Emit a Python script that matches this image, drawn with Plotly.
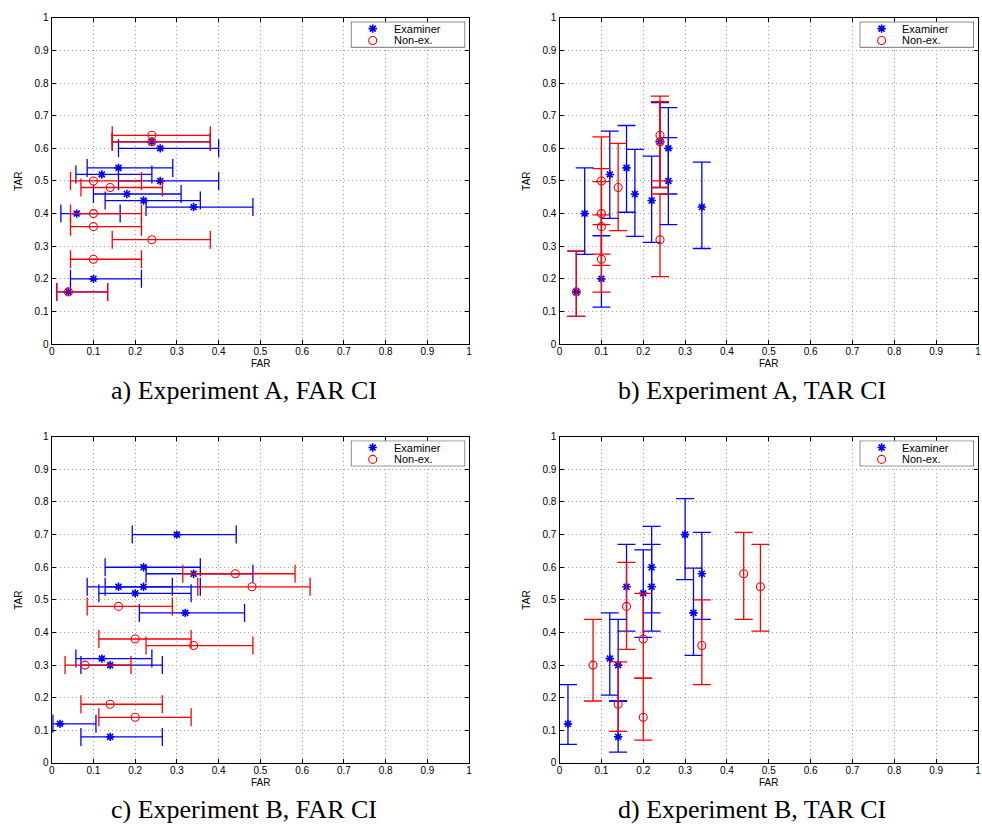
import plotly.graph_objects as go

# ---------------- data ----------------
# Experiment A, examiners
far_a_ex = [0.24, 0.26, 0.16, 0.12, 0.26, 0.18, 0.22, 0.34, 0.06, 0.10, 0.04]
tar_a_ex = [0.62, 0.60, 0.54, 0.52, 0.50, 0.46, 0.44, 0.42, 0.40, 0.20, 0.16]
far_lo_a_ex = [0.145, 0.16, 0.085, 0.058, 0.16, 0.10, 0.128, 0.226, 0.022, 0.045, 0.012]
far_hi_a_ex = [0.38, 0.40, 0.29, 0.24, 0.40, 0.31, 0.356, 0.482, 0.164, 0.215, 0.134]
tar_lo_a_ex = [0.48, 0.46, 0.404, 0.385, 0.366, 0.33, 0.312, 0.293, 0.275, 0.113, 0.085]
tar_hi_a_ex = [0.74, 0.725, 0.67, 0.653, 0.633, 0.597, 0.576, 0.558, 0.54, 0.332, 0.285]

# Experiment A, non-examiners
far_a_nx = [0.24, 0.24, 0.10, 0.14, 0.10, 0.10, 0.24, 0.10, 0.04]
tar_a_nx = [0.64, 0.62, 0.50, 0.48, 0.40, 0.36, 0.32, 0.26, 0.16]
far_lo_a_nx = [0.145, 0.145, 0.045, 0.07, 0.045, 0.045, 0.145, 0.045, 0.012]
far_hi_a_nx = [0.38, 0.38, 0.215, 0.265, 0.215, 0.215, 0.38, 0.215, 0.134]
tar_lo_a_nx = [0.50, 0.48, 0.366, 0.348, 0.276, 0.241, 0.207, 0.159, 0.085]
tar_hi_a_nx = [0.76, 0.743, 0.635, 0.615, 0.538, 0.498, 0.46, 0.396, 0.285]

# Experiment B, examiners
far_b_ex = [0.30, 0.22, 0.34, 0.16, 0.22, 0.20, 0.32, 0.12, 0.14, 0.02, 0.14]
tar_b_ex = [0.70, 0.60, 0.58, 0.54, 0.54, 0.52, 0.46, 0.32, 0.30, 0.12, 0.08]
far_lo_b_ex = [0.193, 0.128, 0.226, 0.085, 0.128, 0.113, 0.21, 0.058, 0.07, 0.003, 0.07]
far_hi_b_ex = [0.442, 0.356, 0.482, 0.289, 0.356, 0.334, 0.462, 0.24, 0.265, 0.106, 0.265]
tar_lo_b_ex = [0.562, 0.46, 0.44, 0.404, 0.404, 0.385, 0.33, 0.208, 0.19, 0.057, 0.033]
tar_hi_b_ex = [0.81, 0.725, 0.707, 0.67, 0.67, 0.653, 0.597, 0.46, 0.44, 0.24, 0.19]

# Experiment B, non-examiners
far_b_nx = [0.44, 0.48, 0.16, 0.20, 0.34, 0.08, 0.14, 0.20]
tar_b_nx = [0.58, 0.54, 0.48, 0.38, 0.36, 0.30, 0.18, 0.14]
far_lo_b_nx = [0.314, 0.35, 0.085, 0.113, 0.226, 0.032, 0.07, 0.113]
far_hi_b_nx = [0.583, 0.619, 0.289, 0.334, 0.482, 0.19, 0.265, 0.334]
tar_lo_b_nx = [0.44, 0.404, 0.348, 0.26, 0.24, 0.19, 0.097, 0.07]
tar_hi_b_nx = [0.707, 0.67, 0.615, 0.52, 0.50, 0.44, 0.31, 0.26]

tick_vals = [0, 0.1, 0.2, 0.3, 0.4, 0.5, 0.6, 0.7, 0.8, 0.9, 1]
tick_text = ["0", "0.1", "0.2", "0.3", "0.4", "0.5", "0.6", "0.7", "0.8", "0.9", "1"]
captions = ["a) Experiment A, FAR CI", "b) Experiment A, TAR CI",
            "c) Experiment B, FAR CI", "d) Experiment B, TAR CI"]
series_names = ["Examiner", "Non-ex."]

# ---------------- layout geometry ----------------
W, H = 982, 836
xdom = [[49 / W, 469 / W], [560 / W, 981 / W]]
ydom = [[1 - 343 / H, 1 - 12 / H], [1 - 768 / H, 1 - 437 / H]]

BLUE = "#0000ff"
RED = "#ff0000"
SANS = "Liberation Sans, Arial, sans-serif"
SERIF = "Liberation Serif, Times New Roman, serif"

panels = [
    (0, 0, "far", (far_a_ex, tar_a_ex, far_lo_a_ex, far_hi_a_ex),
     (far_a_nx, tar_a_nx, far_lo_a_nx, far_hi_a_nx)),
    (0, 1, "tar", (far_a_ex, tar_a_ex, tar_lo_a_ex, tar_hi_a_ex),
     (far_a_nx, tar_a_nx, tar_lo_a_nx, tar_hi_a_nx)),
    (1, 0, "far", (far_b_ex, tar_b_ex, far_lo_b_ex, far_hi_b_ex),
     (far_b_nx, tar_b_nx, far_lo_b_nx, far_hi_b_nx)),
    (1, 1, "tar", (far_b_ex, tar_b_ex, tar_lo_b_ex, tar_hi_b_ex),
     (far_b_nx, tar_b_nx, tar_lo_b_nx, tar_hi_b_nx)),
]

styles = [
    dict(color=BLUE, symbol="asterisk-open", size=7, lw=1.6),
    dict(color=RED, symbol="circle-open", size=8, lw=1.1),
]

fig = go.Figure()
layout = dict(width=W, height=H, margin=dict(l=0, r=0, t=0, b=0),
              paper_bgcolor="white", plot_bgcolor="white", showlegend=False,
              font=dict(family=SANS, size=10, color="black"))
annotations = []
shapes = []

for i, (r, c, mode, ex, nx) in enumerate(panels):
    k = i + 1
    xa = "x" if k == 1 else f"x{k}"
    ya = "y" if k == 1 else f"y{k}"

    for data, name, st in [(ex, series_names[0], styles[0]), (nx, series_names[1], styles[1])]:
        xs, ys, lo, hi = data
        if mode == "far":
            err = dict(type="data", symmetric=False,
                       array=[h - x for h, x in zip(hi, xs)],
                       arrayminus=[x - l for l, x in zip(lo, xs)],
                       color=st["color"], thickness=1.3, width=9)
            kw = dict(error_x=err)
        else:
            err = dict(type="data", symmetric=False,
                       array=[h - y for h, y in zip(hi, ys)],
                       arrayminus=[y - l for l, y in zip(lo, ys)],
                       color=st["color"], thickness=1.3, width=9)
            kw = dict(error_y=err)
        fig.add_trace(go.Scatter(
            x=xs, y=ys, mode="markers", name=name,
            marker=dict(symbol=st["symbol"], size=st["size"], color=st["color"],
                        line=dict(color=st["color"], width=st["lw"])),
            xaxis=xa, yaxis=ya, **kw))

    axis_common = dict(range=[0, 1], tickvals=tick_vals, ticktext=tick_text,
                       showline=True, linecolor="black", linewidth=1.4, mirror="ticks",
                       ticks="inside", ticklen=4, tickcolor="black", tickwidth=1,
                       showgrid=True, gridcolor="#a0a0a0", gridwidth=1, griddash="1px,3px",
                       zeroline=False, fixedrange=True,
                       tickfont=dict(family=SANS, size=10, color="black"))
    layout["xaxis" if k == 1 else f"xaxis{k}"] = dict(
        domain=xdom[c], anchor=ya, ticklabelstandoff=-2, **axis_common)
    layout["yaxis" if k == 1 else f"yaxis{k}"] = dict(
        domain=ydom[r], anchor=xa, **axis_common)

    # ---- legend box (own small invisible axes) ----
    lk = k + 4
    lxa, lya = f"x{lk}", f"y{lk}"
    right_px = xdom[c][1] * W - 4
    left_px = right_px - 115
    top_px = (1 - ydom[r][1]) * H + 4
    bot_px = top_px + 26
    layout[f"xaxis{lk}"] = dict(domain=[left_px / W, right_px / W], range=[0, 115],
                                visible=False, fixedrange=True, anchor=lya)
    layout[f"yaxis{lk}"] = dict(domain=[1 - bot_px / H, 1 - top_px / H], range=[26, 0],
                                visible=False, fixedrange=True, anchor=lxa)
    shapes.append(dict(type="rect", xref=lxa, yref=lya, x0=0, x1=115, y0=0, y1=26,
                       layer="below", fillcolor="white",
                       line=dict(color="black", width=1)))
    for j, (name, st) in enumerate(zip(series_names, styles)):
        yy = 7 + 12 * j
        fig.add_trace(go.Scatter(
            x=[22], y=[yy], mode="markers", name=name, hoverinfo="skip",
            marker=dict(symbol=st["symbol"], size=st["size"], color=st["color"],
                        line=dict(color=st["color"], width=st["lw"])),
            xaxis=lxa, yaxis=lya))
        annotations.append(dict(text=name, x=(left_px + 41) / W, y=1 - (top_px + yy) / H,
                                xref="paper", yref="paper", showarrow=False,
                                xanchor="left", yanchor="middle",
                                font=dict(family=SANS, size=11, color="black")))

    xmid = (xdom[c][0] + xdom[c][1]) / 2
    ymid = (ydom[r][0] + ydom[r][1]) / 2
    annotations.append(dict(text="FAR", x=xmid, y=ydom[r][0] - 20 / H, xref="paper",
                            yref="paper", showarrow=False, xanchor="center", yanchor="middle",
                            font=dict(family=SANS, size=10)))
    annotations.append(dict(text="TAR", x=xdom[c][0] - 33 / W, y=ymid, xref="paper",
                            yref="paper", showarrow=False, textangle=-90,
                            xanchor="center", yanchor="middle",
                            font=dict(family=SANS, size=10)))
    annotations.append(dict(text=captions[i], x=xmid - 17 / W, y=ydom[r][0] - 47 / H,
                            xref="paper", yref="paper", showarrow=False,
                            xanchor="center", yanchor="middle",
                            font=dict(family=SERIF, size=26, color="black")))

layout["annotations"] = annotations
layout["shapes"] = shapes
fig.update_layout(**layout)
fig.write_html("out.html")
